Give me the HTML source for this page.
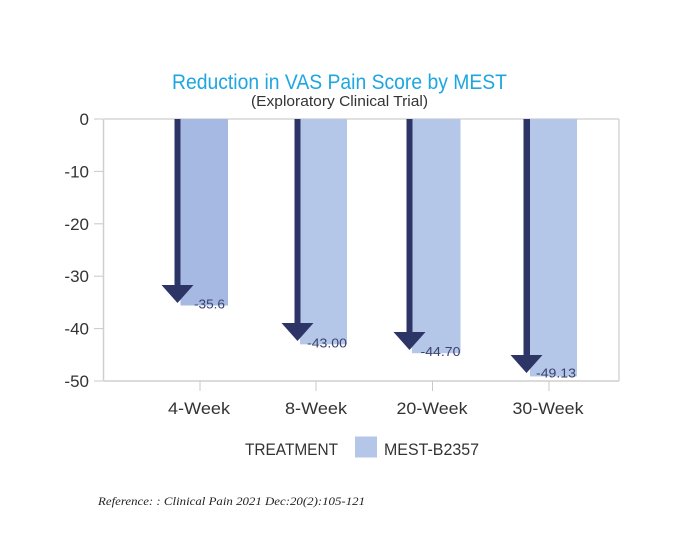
<!DOCTYPE html>
<html>
<head>
<meta charset="utf-8">
<style>
html,body{margin:0;padding:0;background:#fff;}
svg{display:block;}
</style>
</head>
<body>
<svg width="684" height="541" viewBox="0 0 684 541" xmlns="http://www.w3.org/2000/svg">
  <rect width="684" height="541" fill="#fff"/>
  <!-- Title -->
  <text x="172" y="89" font-family="Liberation Sans, sans-serif" font-size="21" fill="#1ea6e0" textLength="335" lengthAdjust="spacingAndGlyphs">Reduction in VAS Pain Score by MEST</text>
  <text x="251" y="106" font-family="Liberation Sans, sans-serif" font-size="15" fill="#333" textLength="177" lengthAdjust="spacingAndGlyphs">(Exploratory Clinical Trial)</text>

  <!-- plot frame -->
  <line x1="103.5" y1="119" x2="619" y2="119" stroke="#d6d6d6" stroke-width="1.5"/>
  <line x1="619" y1="119" x2="619" y2="381" stroke="#d6d6d6" stroke-width="1.5"/>
  <line x1="103.5" y1="119" x2="103.5" y2="381" stroke="#cfcfcf" stroke-width="1.5"/>
  <line x1="103.5" y1="381" x2="619" y2="381" stroke="#cfcfcf" stroke-width="1.5"/>

  <!-- y ticks -->
  <g stroke="#c8c8c8" stroke-width="1">
    <line x1="94" y1="119" x2="103" y2="119"/>
    <line x1="94" y1="171.4" x2="103" y2="171.4"/>
    <line x1="94" y1="223.8" x2="103" y2="223.8"/>
    <line x1="94" y1="276.2" x2="103" y2="276.2"/>
    <line x1="94" y1="328.6" x2="103" y2="328.6"/>
    <line x1="94" y1="381" x2="103" y2="381"/>
  </g>
  <g font-family="Liberation Sans, sans-serif" font-size="17" fill="#333" text-anchor="end">
    <text x="89" y="125">0</text>
    <text x="89" y="177.4">-10</text>
    <text x="89" y="229.8">-20</text>
    <text x="89" y="282.2">-30</text>
    <text x="89" y="334.6">-40</text>
    <text x="89" y="387">-50</text>
  </g>

  <!-- x ticks -->
  <g stroke="#c8c8c8" stroke-width="1">
    <line x1="200" y1="381" x2="200" y2="391"/>
    <line x1="316" y1="381" x2="316" y2="391"/>
    <line x1="432.5" y1="381" x2="432.5" y2="391"/>
    <line x1="549" y1="381" x2="549" y2="391"/>
  </g>
  <g font-family="Liberation Sans, sans-serif" font-size="16.5" fill="#333" text-anchor="middle">
    <text x="199" y="414" textLength="62" lengthAdjust="spacingAndGlyphs">4-Week</text>
    <text x="316" y="414" textLength="62" lengthAdjust="spacingAndGlyphs">8-Week</text>
    <text x="432" y="414" textLength="71" lengthAdjust="spacingAndGlyphs">20-Week</text>
    <text x="548" y="414" textLength="71" lengthAdjust="spacingAndGlyphs">30-Week</text>
  </g>

  <!-- bars -->
  <rect x="180.5" y="119" width="47.5" height="186.5" fill="#a5b9e2"/>
  <rect x="300" y="119" width="47" height="225.3" fill="#b4c7e8"/>
  <rect x="412" y="119" width="48.5" height="234.2" fill="#b4c7e8"/>
  <rect x="530" y="119" width="47" height="257.4" fill="#b4c7e8"/>

  <!-- arrows -->
  <g fill="#2d3566">
    <rect x="174.5" y="119" width="6" height="167"/>
    <polygon points="161.5,285 193.5,285 177.5,303"/>
    <rect x="294.5" y="119" width="6" height="205"/>
    <polygon points="281.5,323 313.5,323 297.5,341"/>
    <rect x="406.5" y="119" width="6" height="214"/>
    <polygon points="393.5,332 425.5,332 409.5,350"/>
    <rect x="523.5" y="119" width="6.5" height="237"/>
    <polygon points="510.5,355 542.5,355 526.5,373"/>
  </g>

  <!-- value labels -->
  <g font-family="Liberation Sans, sans-serif" font-size="13" fill="#3a416e" text-anchor="end">
    <text x="225" y="308.5" textLength="31" lengthAdjust="spacingAndGlyphs">-35.6</text>
    <text x="347" y="347.3" textLength="40" lengthAdjust="spacingAndGlyphs">-43.00</text>
    <text x="460.5" y="356" textLength="40" lengthAdjust="spacingAndGlyphs">-44.70</text>
    <text x="576" y="377.3" textLength="40" lengthAdjust="spacingAndGlyphs">-49.13</text>
  </g>

  <!-- legend -->
  <text x="245" y="455" font-family="Liberation Sans, sans-serif" font-size="17" fill="#333" textLength="93" lengthAdjust="spacingAndGlyphs">TREATMENT</text>
  <rect x="355" y="436.5" width="22" height="21" fill="#b4c7e8"/>
  <text x="384" y="455" font-family="Liberation Sans, sans-serif" font-size="17" fill="#333" textLength="95" lengthAdjust="spacingAndGlyphs">MEST-B2357</text>

  <!-- reference -->
  <text x="98" y="505" font-family="Liberation Serif, serif" font-style="italic" font-size="11.5" fill="#222" textLength="267" lengthAdjust="spacingAndGlyphs">Reference: : Clinical Pain 2021 Dec:20(2):105-121</text>
</svg>
</body>
</html>
